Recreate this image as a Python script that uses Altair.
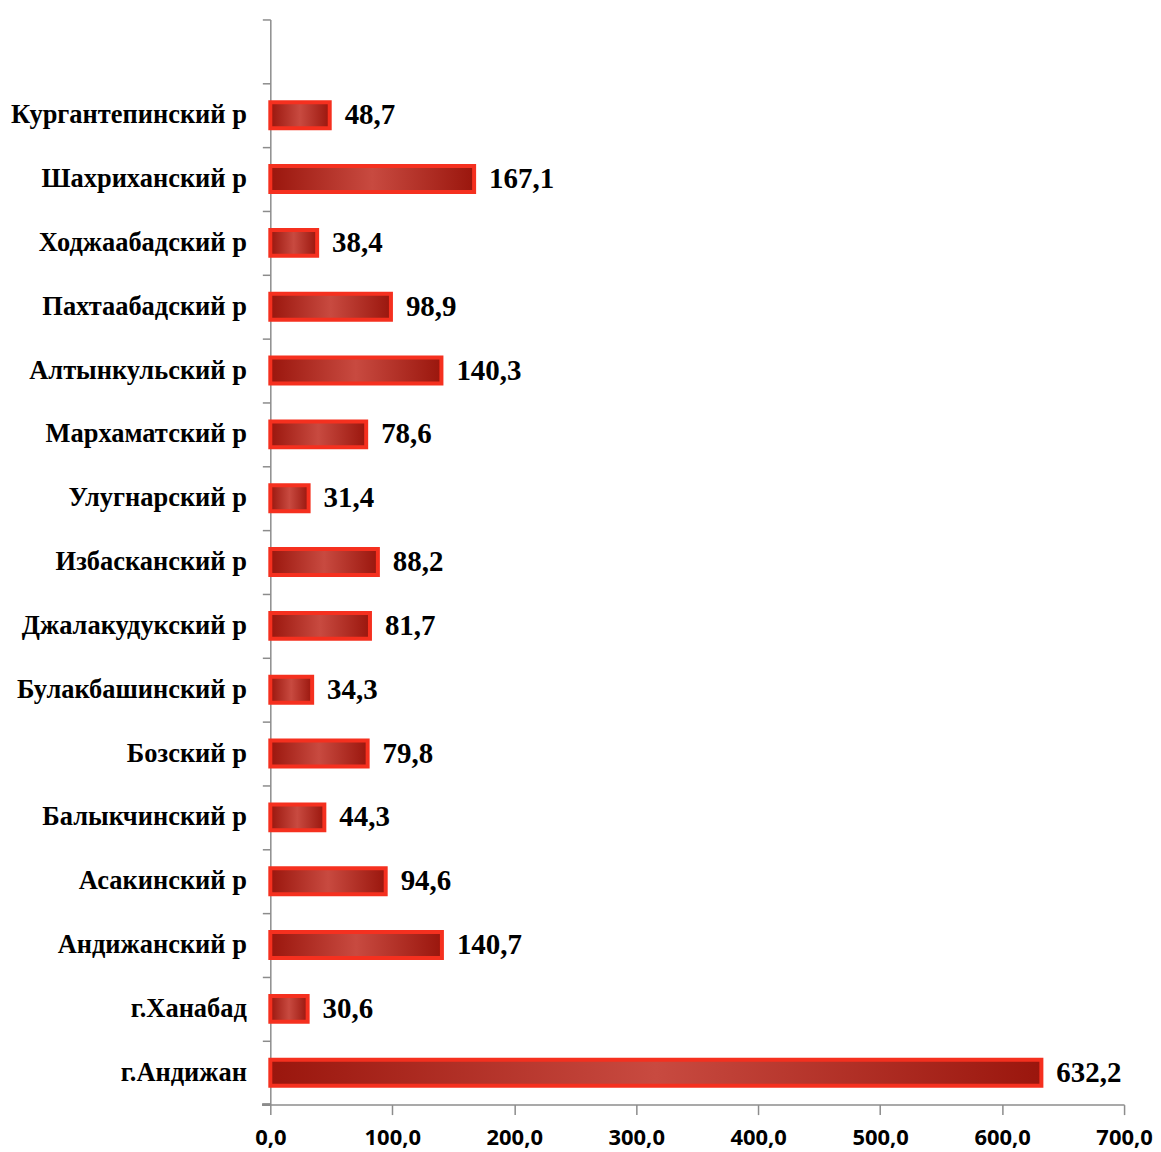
import altair as alt
import pandas as pd

categories = ["г.Андижан", "г.Ханабад", "Андижанский р", "Асакинский р", "Балыкчинский р",
              "Бозский р", "Булакбашинский р", "Джалакудукский р", "Избасканский р",
              "Улугнарский р", "Мархаматский р", "Алтынкульский р", "Пахтаабадский р",
              "Ходжаабадский р", "Шахриханский р", "Кургантепинский р"]
values = [632.2, 30.6, 140.7, 94.6, 44.3, 79.8, 34.3, 81.7, 88.2, 31.4, 78.6, 140.3,
          98.9, 38.4, 167.1, 48.7]
x_ticks = [0, 100, 200, 300, 400, 500, 600, 700]

df = pd.DataFrame({"cat": categories, "val": values})
df["label"] = [f"{v:.1f}".replace(".", ",") for v in values]

domain = [" "] + categories[::-1]

W, H = 856, 1088

y_enc = alt.Y("cat:N", sort=domain,
              scale=alt.Scale(domain=domain, paddingInner=0, paddingOuter=0),
              axis=alt.Axis(title=None, bandPosition=0, labelFont="Liberation Serif",
                            labelFontSize=26.5, labelFontWeight="bold", labelColor="#000000",
                            labelPadding=16, tickSize=8, tickColor="#8c8c8c",
                            domainColor="#8c8c8c", domainWidth=1.5, tickWidth=1.5,
                            labelLimit=400))
x_enc = alt.X("val:Q", scale=alt.Scale(domain=[0, 700], nice=False),
              axis=alt.Axis(title=None, values=x_ticks, grid=False, labelFlush=False,
                            labelOverlap=False,
                            labelExpr="replace(format(datum.value, '.1f'), '.', ',')",
                            labelFont="Open Sans", labelFontSize=22, labelFontWeight="bold",
                            labelColor="#000000", labelPadding=13, tickSize=10,
                            tickColor="#8c8c8c", domainColor="#8c8c8c", domainWidth=1.5,
                            tickWidth=1.5))

grad = alt.Gradient(gradient="linear", x1=0, x2=1, y1=0, y2=0,
                    stops=[alt.GradientStop(offset=0, color="#9a160d"),
                           alt.GradientStop(offset=0.5, color="#c84a40"),
                           alt.GradientStop(offset=1, color="#9a160d")])

bars = alt.Chart(df).mark_bar(height=26, fill=grad, stroke="#f5301f",
                              strokeWidth=4).encode(x=x_enc, y=y_enc)

text = alt.Chart(df).mark_text(align="left", baseline="middle", dx=15,
                               font="Liberation Serif", fontSize=29, fontWeight="bold",
                               color="#000000").encode(
    x="val:Q", y=alt.Y("cat:N", sort=domain), text="label:N")

bottom_tick = alt.Chart(df).mark_rule(color="#8c8c8c", strokeWidth=1.5).encode(
    x=alt.value(-8), x2=alt.value(0), y=alt.value(H))

chart = alt.layer(bars, text, bottom_tick).properties(
    width=W, height=H, background="#ffffff",
    padding={"left": 2, "top": 9, "right": 0, "bottom": 0}
).configure_view(stroke=None)

chart.save("out.html", embed_options={"renderer": "svg", "actions": False})
